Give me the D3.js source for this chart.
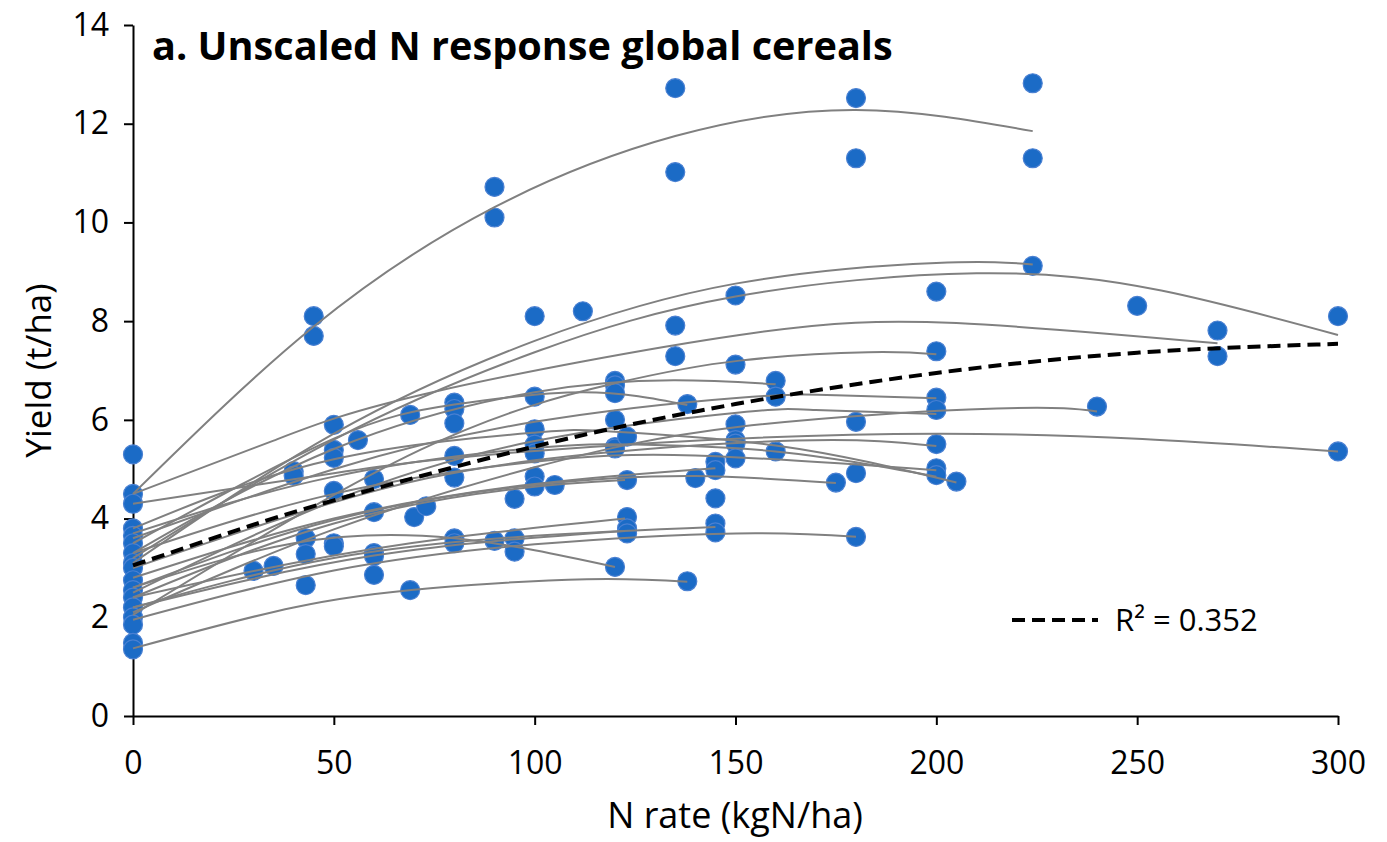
<!DOCTYPE html>
<html>
<head>
<meta charset="utf-8">
<script src="https://cdn.jsdelivr.net/npm/d3@7"></script>
<style>
  body { margin: 0; background: #fff; }
  text { font-family: "Open Sans", Lato, sans-serif; fill: #000; }
</style>
</head>
<body>
<div id="chart"></div>
<script>
// =====================================================================
// data
var titleText = "a. Unscaled N response global cereals";
var xTicks = [0, 50, 100, 150, 200, 250, 300];
var yTicks = [0, 2, 4, 6, 8, 10, 12, 14];

// observed yields (N rate, yield)
var obsN = [
    0,0,0,0,0,0,0,0,0,0,0,0,0,0,0,0,0,
    30,35,40,40,43,43,43,45,45,
    50,50,50,50,50,50,56,60,60,60,60,60,
    69,69,70,73,80,80,80,80,80,80,80,
    90,90,90,95,95,95,
    100,100,100,100,100,100,100,105,112,
    120,120,120,120,120,120,120,123,123,123,123,123,
    135,135,135,135,138,138,140,145,145,145,145,145,
    150,150,150,150,150,150,160,160,160,175,
    180,180,180,180,180,200,200,200,200,200,200,200,205,
    224,224,224,240,250,270,270,300,300
];
var obsYield = [
    5.3,4.5,4.3,3.8,3.65,3.5,3.3,3.1,3.0,2.75,2.55,2.4,2.2,2.0,1.85,1.48,1.35,
    2.94,3.04,4.96,4.87,3.6,3.28,2.65,8.1,7.7,
    5.9,5.39,5.23,4.56,3.5,3.44,5.59,4.8,4.13,3.3,3.24,2.86,
    6.1,2.55,4.03,4.25,6.35,6.22,5.93,5.27,4.83,3.6,3.5,
    10.72,10.1,3.55,4.4,3.6,3.33,
    8.1,6.47,5.81,5.5,5.32,4.85,4.65,4.68,8.2,
    6.79,6.7,6.54,6.0,5.45,5.42,3.02,5.66,4.78,4.03,3.8,3.7,
    12.72,11.02,7.91,7.29,6.32,2.73,4.82,5.15,4.98,4.41,3.9,3.72,
    8.52,7.12,5.91,5.59,5.52,5.22,6.79,6.47,5.36,4.73,
    12.52,11.3,5.96,4.92,3.63,8.6,7.39,6.45,6.2,5.51,5.02,4.88,4.75,
    12.82,11.3,9.12,6.27,8.31,7.81,7.29,8.1,5.36
];

// per-site fitted response curves
var siteCurveN = [
    [0,45,90,135,180,224],
    [0,50,100,150,200,224],
    [0,50,100,150,210,256,300],
    [0,35,74,151,205,270],
    [0,71.5,120,151,183,200],
    [0,50,100,151,215,240],
    [0,50,100,200,300],
    [0,50,100,151,175,200],
    [0,50,100,135,160],
    [0,50,80,112,138],
    [0,50,100,151,170,200],
    [0,50,100,165,200],
    [0,50,100,140,200],
    [0,50,100,118,160,205],
    [0,50,100,125,160,200],
    [0,50,100,140,175],
    [0,50,95,122.5],
    [0,50,100,150,180],
    [0,50,100,145],
    [0,40,80,122.5],
    [0,60,122.5],
    [0,40,80,120],
    [0,40,74,113,138],
    [0,50,100,145]
];
var siteCurveYield = [
    [4.5,7.89,10.31,11.75,12.28,11.85],
    [3.1,5.72,7.6,8.76,9.18,9.15],
    [3.2,5.6,7.37,8.5,8.97,8.62,7.72],
    [4.5,5.58,6.55,7.72,7.96,7.55],
    [2.05,5.39,6.74,7.2,7.37,7.33],
    [2.1,3.78,5.04,5.86,6.23,6.17],
    [4.3,4.92,5.37,5.72,5.36],
    [3.6,5.0,5.96,6.45,6.5,6.44],
    [3.3,5.41,6.56,6.8,6.72],
    [3.5,5.62,6.31,6.56,6.3],
    [2.5,4.36,5.57,6.15,6.2,6.12],
    [3.0,4.33,5.18,5.58,5.47],
    [3.3,4.5,5.15,5.28,4.98],
    [3.8,5.2,5.74,5.77,5.48,4.73],
    [3.7,4.85,5.43,5.5,5.36,4.85],
    [2.6,3.97,4.68,4.86,4.72],
    [2.4,3.9,4.6,4.78],
    [1.95,2.95,3.48,3.7,3.63],
    [2.2,3.2,3.65,3.83],
    [2.4,3.1,3.62,4.0],
    [2.2,3.25,3.75],
    [2.6,3.5,3.6,3.02],
    [1.37,2.2,2.59,2.77,2.72],
    [2.8,4.0,4.7,5.02]
];

// pooled fit (dashed)
var pooledN = [0,25,50,100,150,200,250,300];
var pooledYield = [3.05,3.74,4.37,5.46,6.32,6.95,7.36,7.54];
var pooledLabel = "R\u00b2 = 0.352";

// =====================================================================
var width = 1387, height = 842;
var plot = { left:133, right:1338, top:25, bottom:716 };

var svg = d3.select("#chart").append("svg")
    .attr("width", width).attr("height", height);

var x = d3.scaleLinear().domain([0, 300]).range([plot.left, plot.right]);
var y = d3.scaleLinear().domain([0, 14]).range([plot.bottom, plot.top]);

// axes
var xAxis = svg.append("g")
    .attr("transform", "translate(0," + plot.bottom + ")")
    .call(d3.axisBottom(x).tickValues(xTicks).tickSize(9).tickPadding(26).tickSizeOuter(0));
var yAxis = svg.append("g")
    .attr("transform", "translate(" + plot.left + ",0)")
    .call(d3.axisLeft(y).tickValues(yTicks).tickSize(9).tickPadding(15).tickSizeOuter(0));

[xAxis, yAxis].forEach(function(a){
    a.selectAll("path, line").attr("stroke", "#000").attr("stroke-width", 2);
    a.selectAll("text").style("font-size", "32px").attr("fill", "#000");
});

// points
var pts = obsN.map(function(n, i){ return [n, obsYield[i]]; });
svg.append("g").selectAll("circle")
    .data(pts).enter().append("circle")
    .attr("cx", function(d){ return x(d[0]); })
    .attr("cy", function(d){ return y(d[1]); })
    .attr("r", 9.5)
    .attr("fill", "#1b6bc6")
    .attr("stroke", "#4a80d2")
    .attr("stroke-width", 1.2);

// site curves
var line = d3.line()
    .x(function(d){ return x(d[0]); })
    .y(function(d){ return y(d[1]); })
    .curve(d3.curveNatural);

var curves = siteCurveN.map(function(ns, i){
    return ns.map(function(n, j){ return [n, siteCurveYield[i][j]]; });
});
svg.append("g").selectAll("path")
    .data(curves).enter().append("path")
    .attr("d", line)
    .attr("fill", "none")
    .attr("stroke", "#808080")
    .attr("stroke-width", 2);

// pooled dashed fit
var pooled = pooledN.map(function(n, i){ return [n, pooledYield[i]]; });
svg.append("path")
    .datum(pooled)
    .attr("d", line)
    .attr("fill", "none")
    .attr("stroke", "#000")
    .attr("stroke-width", 4)
    .attr("stroke-dasharray", "13,7");

// legend
var lg = svg.append("g").attr("transform", "translate(1012,620)");
lg.append("line").attr("x1", 0).attr("x2", 86)
    .attr("stroke", "#000").attr("stroke-width", 4).attr("stroke-dasharray", "13,7");
lg.append("text").attr("x", 103).attr("y", 11)
    .style("font-size", "31px").text(pooledLabel);

// title and axis titles
var title = svg.append("text").attr("x", 152).attr("y", 60)
    .style("font-size", "36px").style("font-weight", "bold")
    .text(titleText);
// scale the title so it spans the same width as in the figure
var tw = title.node().getComputedTextLength();
title.style("font-size", (36 * 741 / tw) + "px");

svg.append("text")
    .attr("transform", "translate(51," + ((plot.top + plot.bottom) / 2) + ") rotate(-90)")
    .attr("text-anchor", "middle")
    .style("font-size", "35px")
    .text("Yield (t/ha)");

svg.append("text")
    .attr("x", 735).attr("y", 828)
    .attr("text-anchor", "middle")
    .style("font-size", "36px")
    .text("N rate (kgN/ha)");
</script>
</body>
</html>
